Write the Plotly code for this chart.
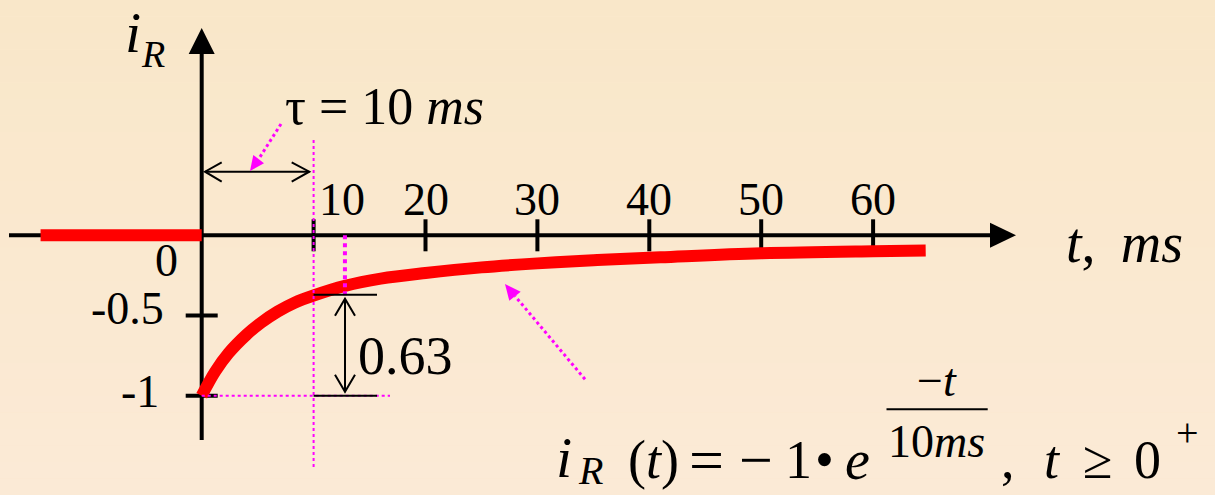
import plotly.graph_objects as go

# ---- data -------------------------------------------------------------
t_ms = [0, 1.2, 2.4, 4, 5.3, 6.8, 8.3, 10, 12.8, 16, 20, 25, 30, 35, 41, 50, 60, 64.7]
i_R = [-1, -0.85, -0.735, -0.62, -0.545, -0.475, -0.42, -0.375, -0.315, -0.27,
       -0.235, -0.2, -0.175, -0.155, -0.137, -0.112, -0.099, -0.095]
t_before = [-14.4, 0]
i_before = [0, 0]

x_ticks = [10, 20, 30, 40, 50, 60]
x_tick_labels = ["10", "20", "30", "40", "50", "60"]
y_ticks = [-0.5, -1]
y_tick_labels = ["0", "-0.5", "-1"]
y_label_values = [0, -0.5, -1]

tau = 10          # time constant, ms
span = 0.63       # rise after one time constant

# ---- geometry of the drawing -----------------------------------------
W, H = 1215, 495
ORIGIN_X, ORIGIN_Y = 201.7, 235.3     # page position of (0, 0)
PX_PER_MS, PX_PER_UNIT = 11.19, 160.4


def dx(p):
    """page x -> time axis value"""
    return (p - ORIGIN_X) / PX_PER_MS


def dy(p):
    """page y -> current axis value"""
    return (ORIGIN_Y - p) / PX_PER_UNIT


def sy(v):
    return ORIGIN_Y - v * PX_PER_UNIT


RED = "#ff0000"
MAG = "#ff00ff"
FONT = "Liberation Serif, Times New Roman, serif"

fig = go.Figure()

fig.add_trace(go.Scatter(x=t_before, y=i_before, mode="lines",
                         line=dict(color=RED, width=12), hoverinfo="skip"))
fig.add_trace(go.Scatter(x=t_ms, y=i_R, mode="lines",
                         line=dict(color=RED, width=12, shape="spline", smoothing=1.0),
                         hoverinfo="skip"))

shapes = []

# soft vertical background shading
top_rgb = (249, 231, 201)
bot_rgb = (251, 234, 214)
bands = 30
for k in range(bands):
    f = k / (bands - 1)
    c = tuple(round(a + (b - a) * f) for a, b in zip(top_rgb, bot_rgb))
    shapes.append(dict(type="rect", xref="paper", yref="paper",
                       x0=0, x1=1, y0=1 - (k + 1) / bands, y1=1 - k / bands,
                       fillcolor="rgb(%d,%d,%d)" % c, line=dict(width=0), layer="below"))


def seg(x0, y0, x1, y1, color="black", width=4, dash="solid", layer="below"):
    shapes.append(dict(type="line", x0=x0, y0=y0, x1=x1, y1=y1, xref="x", yref="y",
                       line=dict(color=color, width=width, dash=dash), layer=layer))


def poly(points, fill=None, color="black", width=2, closed=False, layer="above"):
    d = "M " + " L ".join("%f,%f" % (dx(a), dy(b)) for a, b in points)
    if closed:
        d += " Z"
    shapes.append(dict(type="path", path=d, xref="x", yref="y",
                       fillcolor=fill if fill else "rgba(0,0,0,0)",
                       line=dict(color=color, width=width if not fill else 0),
                       layer=layer))


# axes with arrowheads
seg(dx(9), 0, dx(992), 0)
poly([(1016, ORIGIN_Y), (990, ORIGIN_Y - 12.5), (990, ORIGIN_Y + 12.5)], fill="black", closed=True, layer="below")
seg(0, dy(440), 0, dy(52))
poly([(ORIGIN_X, 28), (ORIGIN_X - 13, 54), (ORIGIN_X + 13, 54)], fill="black", closed=True, layer="below")

# tick marks
for t in x_ticks:
    seg(t, dy(ORIGIN_Y + 16), t, dy(ORIGIN_Y - 16))
for v in y_ticks:
    seg(dx(ORIGIN_X - 16), v, dx(ORIGIN_X + 16), v)

# construction lines for the time constant
seg(tau, dy(140), tau, dy(470), color=MAG, width=2, dash="dot", layer="above")
seg(0, -1, dx(390), -1, color=MAG, width=2, dash="dot", layer="above")
seg(12.8, 0, 12.8, dy(297), color=MAG, width=4, dash="dot", layer="above")

# 0.63 dimension
seg(tau, -1 + span, dx(377), -1 + span, width=2, layer="above")
seg(tau, -1, dx(377), -1, width=2, layer="above")
top = sy(-1 + span) + 4
bot = sy(-1) - 4
seg(dx(345), dy(top), dx(345), dy(bot), width=2, layer="above")
poly([(335, top + 17), (345, top), (355, top + 17)])
poly([(335, bot - 17), (345, bot), (355, bot - 17)])

# tau dimension arrow
seg(dx(205), dy(171.7), dx(309.3), dy(171.7), width=2, layer="above")
poly([(221.7, 162.3), (205, 171.7), (221.7, 181.7)])
poly([(291.7, 162.3), (309.3, 171.7), (291.7, 181.7)])

# magenta pointer arrows
seg(dx(281), dy(124), dx(258.7), dy(159), color=MAG, width=3, dash="dot", layer="above")
poly([(250, 171), (253.3, 155), (264, 163.3)], fill=MAG, closed=True)
seg(dx(585), dy(379.3), dx(515), dy(296), color=MAG, width=3, dash="dot", layer="above")
poly([(505, 284), (509.3, 300.7), (520.7, 291.7)], fill=MAG, closed=True)

# fraction bar of the exponent
seg(dx(886.5), dy(409.3), dx(987.7), dy(409.3), width=2, layer="above")

annotations = []


def text(s, x, y, size, xanchor="center", yanchor="middle", xshift=0, yshift=0):
    annotations.append(dict(text=s, x=x, y=y, xref="x", yref="y", showarrow=False,
                            xanchor=xanchor, yanchor=yanchor, xshift=xshift, yshift=yshift,
                            font=dict(family=FONT, size=size, color="black")))


# tick labels
for t, lab in zip(x_ticks, x_tick_labels):
    text(lab, t, dy(199), 46, xshift=28 if t == tau else 0)
y_label_pos = {0: (180, 260), -0.5: (166, 308), -1: (161, 392)}
for v, lab in zip(y_label_values, y_tick_labels):
    px_right, py_mid = y_label_pos[v]
    text(lab, dx(px_right), v, 46, xanchor="right", yshift=-(py_mid - sy(v)))

# axis titles
text("<i>i</i>", dx(123), dy(32), 58, xanchor="left")
text("<i>R</i>", dx(139), dy(54), 38, xanchor="left")
text("<i>t</i>,\u00a0\u2009<i>ms</i>", dx(1064), dy(243), 56, xanchor="left")

# annotations on the plot
text("τ = 10 <i>ms</i>", dx(283), dy(106), 52, xanchor="left")
text("0.63", dx(405), dy(356), 54)

# formula
text("<i>i</i>", dx(554), dy(457), 58, xanchor="left")
text("<i>R</i>", dx(576), dy(495), 40, xanchor="left", yanchor="bottom")
text("(<i>t</i>)", dx(626), dy(459.5), 54, xanchor="left")
text("=", dx(706.5), dy(459.5), 62)
text("−", dx(756), dy(459.5), 60)
text("1", dx(798), dy(459.5), 54)
text("•", dx(824), dy(459.5), 54)
text("<i>e</i>", dx(857.5), dy(459.5), 56)
text("−<i>t</i>", dx(937), dy(380), 46)
text("10<i>ms</i>", dx(936), dy(441), 46)
text(",", dx(1008), dy(459.5), 54)
text("<i>t</i>", dx(1052), dy(459.5), 54)
text("≥", dx(1097.5), dy(459.5), 54)
text("0", dx(1147), dy(459.5), 54)
text("+", dx(1187), dy(432), 40)

fig.update_layout(
    width=W, height=H, autosize=False,
    margin=dict(l=0, r=0, t=0, b=0),
    paper_bgcolor="rgb(250,232,207)", plot_bgcolor="rgba(0,0,0,0)",
    showlegend=False,
    xaxis=dict(range=[dx(0), dx(W)], visible=False, fixedrange=True),
    yaxis=dict(range=[dy(H), dy(0)], visible=False, fixedrange=True),
    shapes=shapes, annotations=annotations,
)

fig.write_html("out.html", config={"displayModeBar": False})
